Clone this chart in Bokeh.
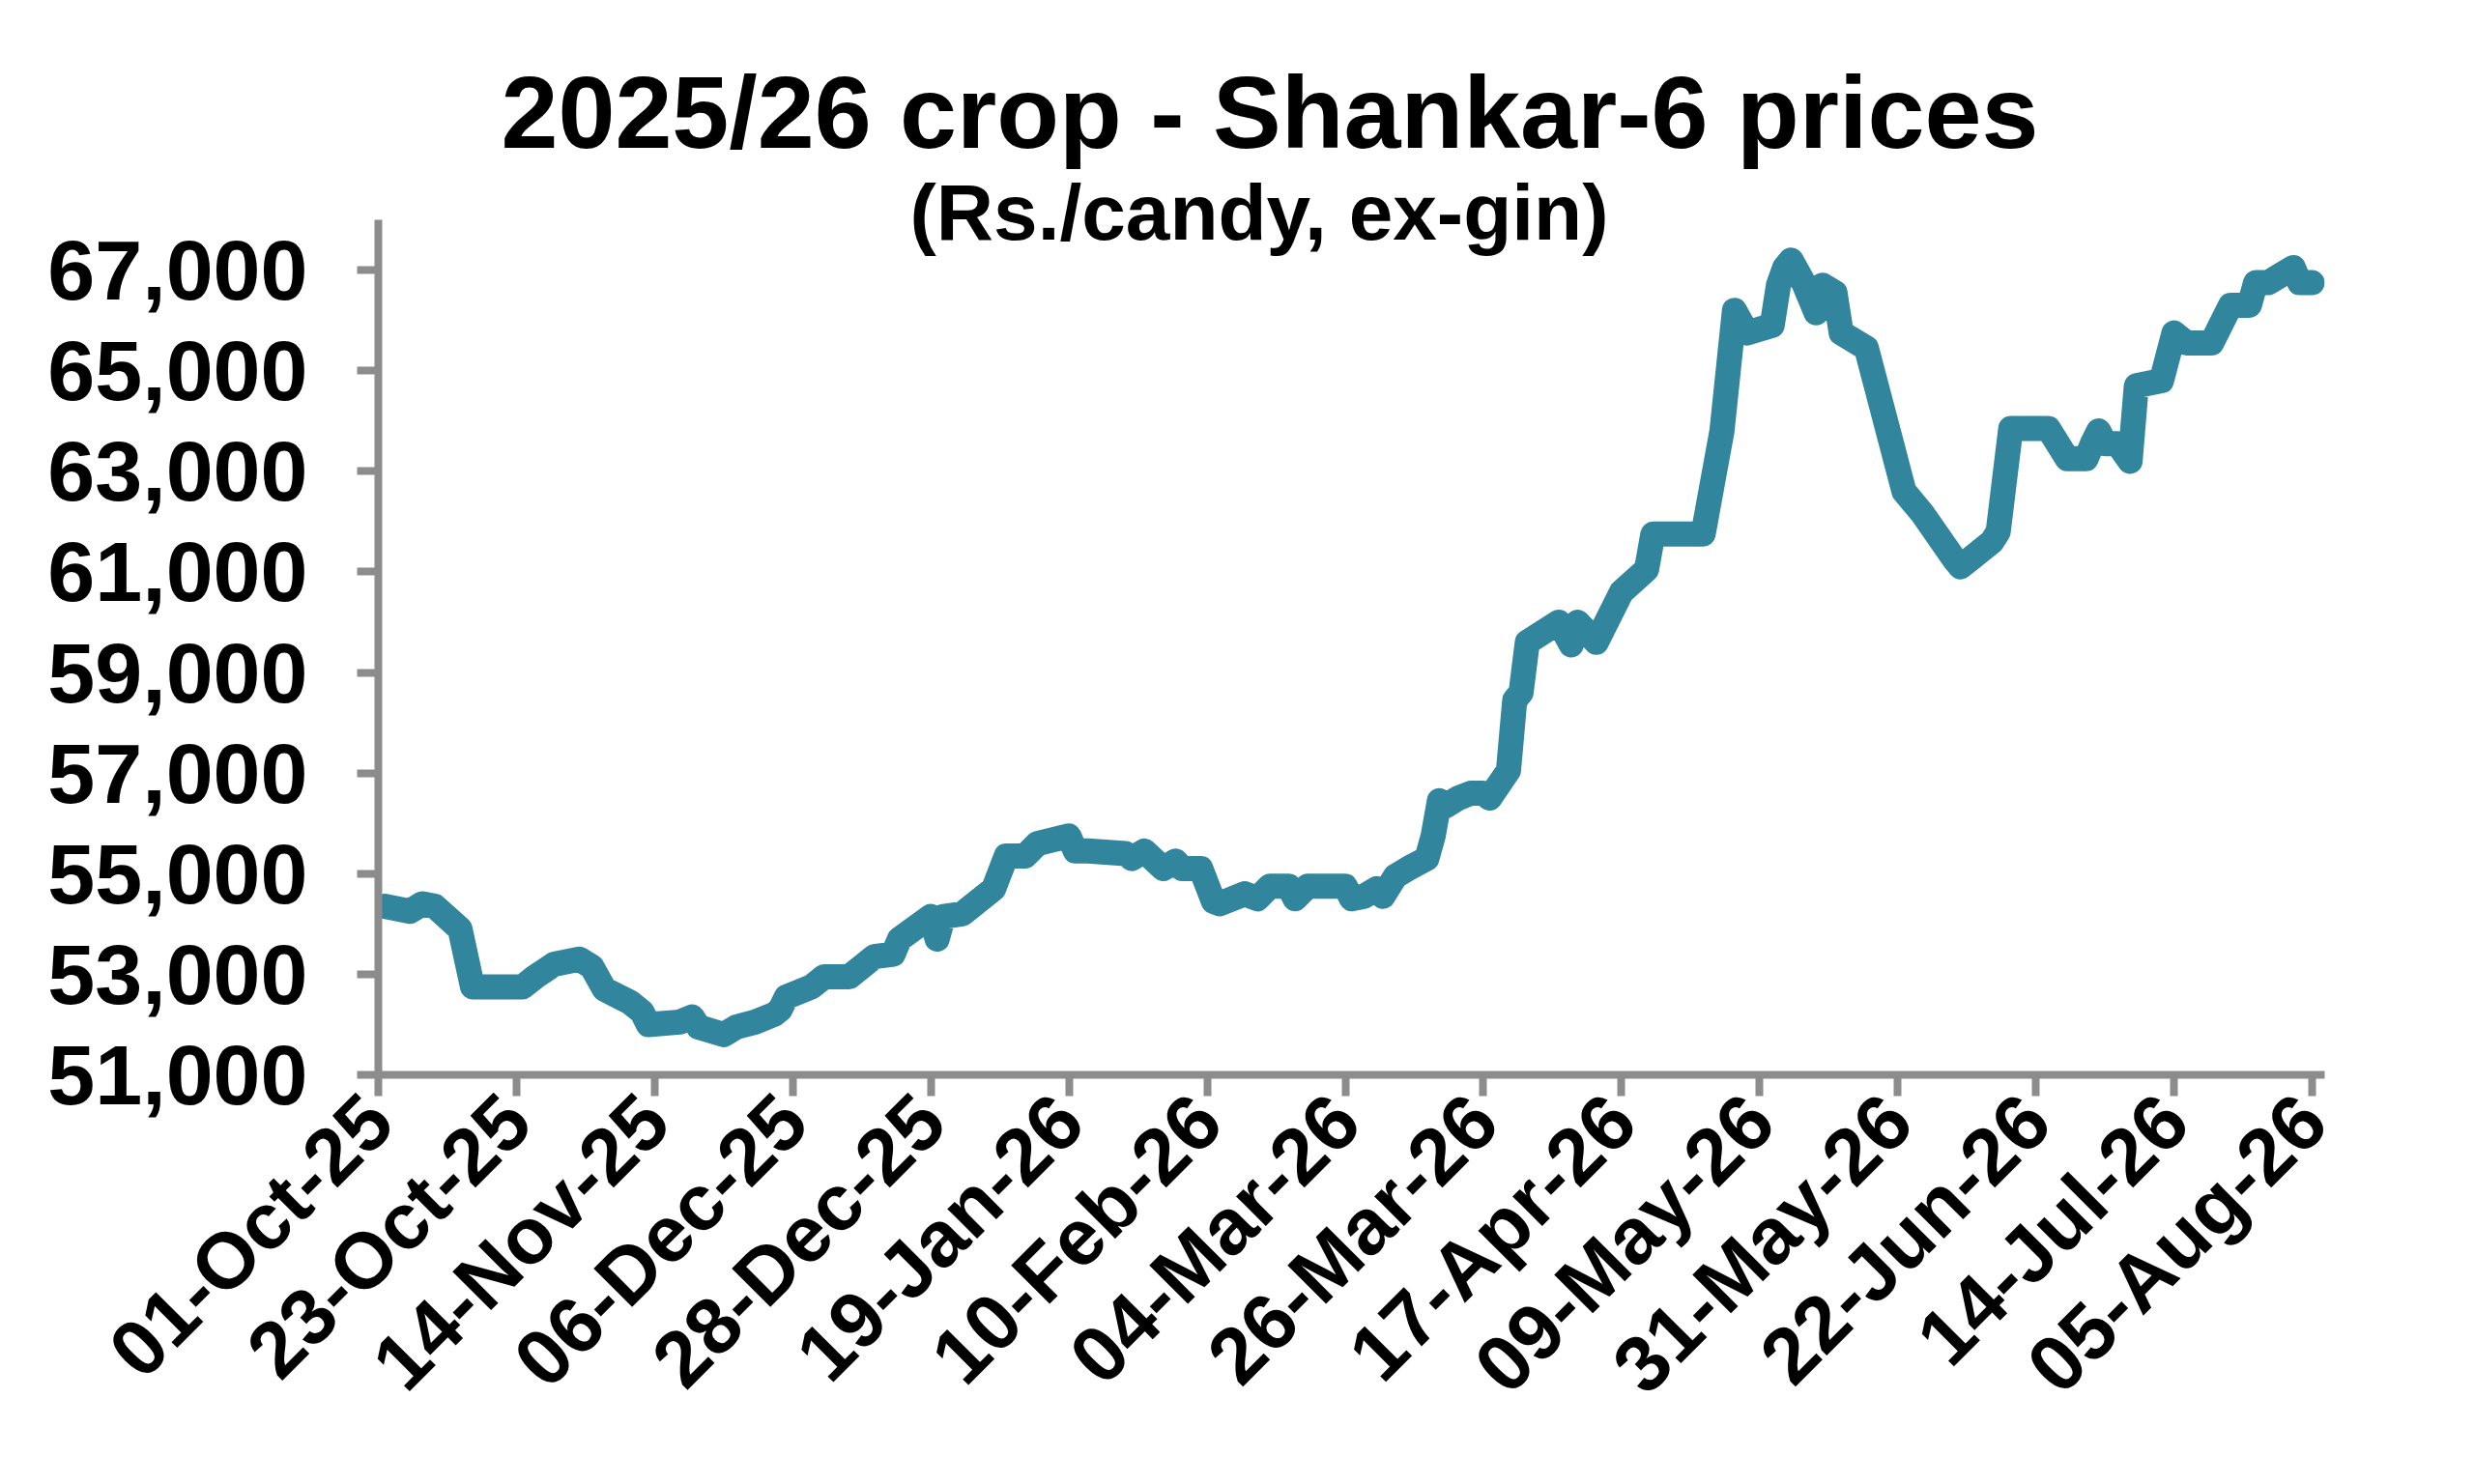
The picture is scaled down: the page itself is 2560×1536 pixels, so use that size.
import math
import pandas as pd
from bokeh.plotting import figure
from bokeh.models import (Range1d, FixedTicker, DatetimeTickFormatter,
                          NumeralTickFormatter, Title, ColumnDataSource)
from bokeh.embed import file_html
from bokeh.resources import INLINE

# ---------------- data ----------------
dates = [
    "2025-10-02", "2025-10-06", "2025-10-08", "2025-10-10", "2025-10-14", "2025-10-16",
    "2025-10-24", "2025-10-26", "2025-10-29", "2025-11-02", "2025-11-04", "2025-11-06",
    "2025-11-10", "2025-11-12", "2025-11-13", "2025-11-18", "2025-11-20", "2025-11-21",
    "2025-11-25", "2025-11-27", "2025-11-30", "2025-12-03", "2025-12-04", "2025-12-05",
    "2025-12-09", "2025-12-11", "2025-12-15", "2025-12-17", "2025-12-19", "2025-12-22",
    "2025-12-23", "2025-12-28", "2025-12-29", "2025-12-30", "2026-01-02", "2026-01-06",
    "2026-01-07", "2026-01-09", "2026-01-12", "2026-01-14", "2026-01-19", "2026-01-20",
    "2026-01-22", "2026-01-28", "2026-01-29", "2026-01-31", "2026-02-03", "2026-02-05",
    "2026-02-06", "2026-02-09", "2026-02-11", "2026-02-12", "2026-02-16", "2026-02-18",
    "2026-02-20", "2026-02-23", "2026-02-24", "2026-02-26", "2026-03-04", "2026-03-05",
    "2026-03-07", "2026-03-09", "2026-03-10", "2026-03-12", "2026-03-14", "2026-03-17",
    "2026-03-18", "2026-03-19", "2026-03-20", "2026-03-22", "2026-03-24", "2026-03-26",
    "2026-03-27", "2026-03-30", "2026-03-31", "2026-04-01", "2026-04-02", "2026-04-07",
    "2026-04-09", "2026-04-10", "2026-04-13", "2026-04-15", "2026-04-17", "2026-04-21",
    "2026-04-22", "2026-04-30", "2026-05-03", "2026-05-05", "2026-05-07", "2026-05-11",
    "2026-05-12", "2026-05-13", "2026-05-14", "2026-05-16", "2026-05-18", "2026-05-19",
    "2026-05-21", "2026-05-22", "2026-05-26", "2026-05-30", "2026-06-01", "2026-06-03",
    "2026-06-04", "2026-06-09", "2026-06-10", "2026-06-12", "2026-06-15", "2026-06-16",
    "2026-06-18", "2026-06-24", "2026-06-27", "2026-06-30", "2026-07-01", "2026-07-02",
    "2026-07-03", "2026-07-05", "2026-07-07", "2026-07-08", "2026-07-12", "2026-07-14",
    "2026-07-16", "2026-07-20", "2026-07-23", "2026-07-26", "2026-07-27", "2026-07-29",
    "2026-07-31", "2026-08-02", "2026-08-03", "2026-08-05",
]
prices = [
    54350, 54250, 54400, 54350, 53900, 52750,
    52750, 52950, 53200, 53300, 53150, 52700,
    52450, 52250, 52000, 52050, 52150, 51950,
    51800, 51950, 52050, 52200, 52300, 52550,
    52750, 52950, 52950, 53150, 53350, 53400,
    53700, 54150, 53700, 54150, 54200, 54600,
    54700, 55350, 55350, 55600, 55750, 55450,
    55450, 55400, 55300, 55450, 55100, 55250,
    55100, 55100, 54450, 54400, 54600, 54500,
    54750, 54750, 54500, 54750, 54750, 54500,
    54550, 54700, 54550, 54950, 55100, 55300,
    55750, 56450, 56350, 56500, 56600, 56600,
    56500, 57050, 58450, 58600, 59600, 60000,
    59550, 60000, 59600, 60100, 60600, 61050,
    61750, 61750, 63800, 66200, 65750, 65900,
    66700, 67050, 67200, 66750, 66150, 66700,
    66550, 65750, 65450, 63550, 62600, 62300,
    62150, 61250, 61100, 61300, 61600, 61800,
    63850, 63850, 63250, 63250, 63550, 63800,
    63550, 63550, 63200, 64700, 64800, 65750,
    65550, 65550, 66300, 66300, 66750, 66750,
    66900, 67050, 66750, 66750,
]
x_tick_dates = [
    "2025-10-01", "2025-10-23", "2025-11-14", "2025-12-06", "2025-12-28",
    "2026-01-19", "2026-02-10", "2026-03-04", "2026-03-26", "2026-04-17",
    "2026-05-09", "2026-05-31", "2026-06-22", "2026-07-14", "2026-08-05",
]
y_ticks = [51000, 53000, 55000, 57000, 59000, 61000, 63000, 65000, 67000]
x_start, x_end = "2025-10-01", "2026-08-07"
y_start, y_end = 51000, 68000

title_text = "2025/26 crop - Shankar-6 prices"
subtitle_text = "(Rs./candy, ex-gin)"

# ---------------- chart ----------------
def to_ms(s):
    return pd.Timestamp(s).value / 1e6

src = ColumnDataSource(dict(x=pd.to_datetime(dates), y=prices))

FONT = "Liberation Sans"
AXIS_COLOR = "#8C8C8C"

p = figure(width=2544, height=1520, x_axis_type="datetime",
           x_range=Range1d(to_ms(x_start), to_ms(x_end)),
           y_range=Range1d(y_start, y_end),
           output_backend="svg", toolbar_location=None,
           min_border_left=391, min_border_right=139,
           min_border_top=0, min_border_bottom=408)
p.outline_line_color = None
p.background_fill_color = "white"
p.border_fill_color = "white"
p.xgrid.visible = False
p.ygrid.visible = False

p.line("x", "y", source=src, line_width=26, line_color="#31859C",
       line_join="round", line_cap="round")

fmt = "%d-%b-%y"
xa = p.xaxis[0]
xa.ticker = FixedTicker(ticks=[to_ms(d) for d in x_tick_dates])
xa.formatter = DatetimeTickFormatter(milliseconds=fmt, seconds=fmt, minsec=fmt,
                                     minutes=fmt, hourmin=fmt, hours=fmt,
                                     days=fmt, months=fmt, years=fmt)
xa.major_label_orientation = math.pi / 4
xa.major_label_text_font = FONT
xa.major_label_text_font_style = "bold"
xa.major_label_text_font_size = "82px"
xa.major_label_text_color = "black"
xa.major_label_standoff = 12
xa.axis_line_color = AXIS_COLOR
xa.axis_line_width = 8
xa.major_tick_line_color = AXIS_COLOR
xa.major_tick_line_width = 8
xa.major_tick_in = 0
xa.major_tick_out = 22
xa.minor_tick_line_color = None

ya = p.yaxis[0]
ya.ticker = FixedTicker(ticks=y_ticks)
ya.formatter = NumeralTickFormatter(format="0,0")
ya.major_label_text_font = FONT
ya.major_label_text_font_style = "bold"
ya.major_label_text_font_size = "88px"
ya.major_label_text_color = "black"
ya.major_label_standoff = 51
ya.axis_line_color = AXIS_COLOR
ya.axis_line_width = 8
ya.major_tick_line_color = AXIS_COLOR
ya.major_tick_line_width = 8
ya.major_tick_in = 0
ya.major_tick_out = 22
ya.minor_tick_line_color = None

# subtitle first (closest to the frame), then the main title, then a spacer
p.add_layout(Title(text=subtitle_text, align="left", offset=550,
                   vertical_align="bottom", standoff=-74,
                   text_font=FONT, text_font_style="bold",
                   text_font_size="82px", text_color="black"), "above")
p.add_layout(Title(text=title_text, align="left", offset=127,
                   vertical_align="bottom", standoff=68,
                   text_font=FONT, text_font_style="bold",
                   text_font_size="106px", text_color="black"), "above")
p.add_layout(Title(text=" ", align="left", vertical_align="bottom", standoff=7,
                   text_font=FONT, text_font_size="10px"), "above")

open("out.html", "w").write(file_html(p, INLINE))
